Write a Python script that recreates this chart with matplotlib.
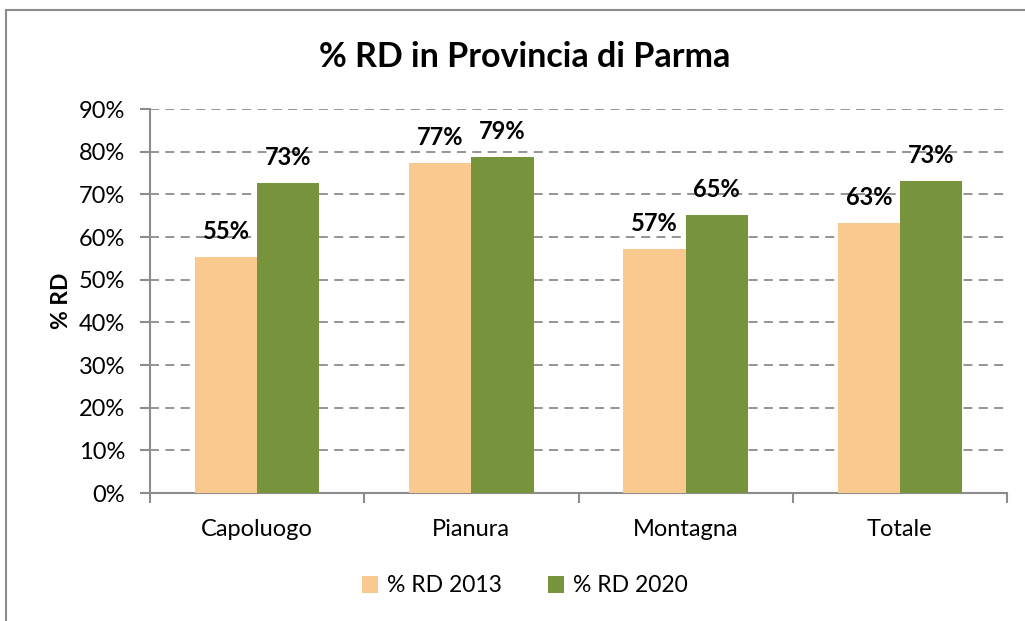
import matplotlib
matplotlib.use("Agg")
import matplotlib.pyplot as plt
import numpy as np
from matplotlib.patches import Rectangle

categories = ["Capoluogo", "Pianura", "Montagna", "Totale"]
rd_2013 = [55.4, 77.3, 57.3, 63.3]
rd_2020 = [72.6, 78.7, 65.2, 73.1]
labels_2013 = ["55%", "77%", "57%", "63%"]
labels_2020 = ["73%", "79%", "65%", "73%"]
yticks = [0, 10, 20, 30, 40, 50, 60, 70, 80, 90]
ytick_labels = [f"{v}%" for v in yticks]
series_names = ["% RD 2013", "% RD 2020"]
colors = ["#FAC990", "#77933C"]
title = "% RD in Provincia di Parma"
ylabel = "% RD"

plt.rcParams['font.family'] = ['Lato', 'DejaVu Sans']

fig = plt.figure(figsize=(10.25, 6.21), dpi=100)
fig.patches.append(Rectangle((6/1025, -0.2), 1.2, (621-10)/621 + 0.2,
                             transform=fig.transFigure, fill=False,
                             edgecolor="#8c8c8c", linewidth=1.5, zorder=0))
ax = fig.add_axes([150/1025, 1-493/621, (1007-150)/1025, (493-109)/621])

x = np.arange(len(categories))
w = 0.29
b1 = ax.bar(x - w/2, rd_2013, w, color=colors[0], label=series_names[0], zorder=3)
b2 = ax.bar(x + w/2, rd_2020, w, color=colors[1], label=series_names[1], zorder=3)

for bars, labs in ((b1, labels_2013), (b2, labels_2020)):
    for rect, lab in zip(bars, labs):
        ax.annotate(lab, (rect.get_x() + rect.get_width()/2, rect.get_height()),
                    xytext=(0, 10), textcoords="offset points", ha="center", va="bottom",
                    fontsize=17, fontweight="bold", zorder=4)

ax.set_xlim(-0.5, len(categories) - 0.5)
ax.set_ylim(0, 90)
ax.set_yticks(yticks)
ax.set_yticklabels(ytick_labels, fontsize=17)
ax.set_xticks(x)
ax.set_xticklabels(categories, fontsize=17)
ax.tick_params(axis="x", length=0, pad=19)
ax.set_xticks(np.arange(-0.5, len(categories)), minor=True)
ax.tick_params(axis="x", which="minor", length=7, width=1.5, color="#8c8c8c", direction="out")
ax.tick_params(axis="y", length=7, width=1.5, color="#8c8c8c", pad=11)

ax.yaxis.grid(True, linestyle=(0, (5, 3.5)), color="#8c8c8c", linewidth=1.3, zorder=0)
ax.set_axisbelow(True)
for s in ["top", "right"]:
    ax.spines[s].set_visible(False)
for s in ["left", "bottom"]:
    ax.spines[s].set_color("#8c8c8c")
    ax.spines[s].set_linewidth(1.5)

ax.set_ylabel(ylabel, fontsize=16.5, fontweight="bold", labelpad=5)
fig.text(525/1025, 1-57/621, title, ha="center", va="center", fontsize=24.5, fontweight="bold")

fig.legend(handles=[b1, b2], labels=series_names, loc="center", bbox_to_anchor=(525/1025, 1-586/621),
           ncol=2, frameon=False, fontsize=16.5, handlelength=0.7, handleheight=0.7,
           columnspacing=2.0, handletextpad=0.4)

fig.savefig("out.png", dpi=100)
